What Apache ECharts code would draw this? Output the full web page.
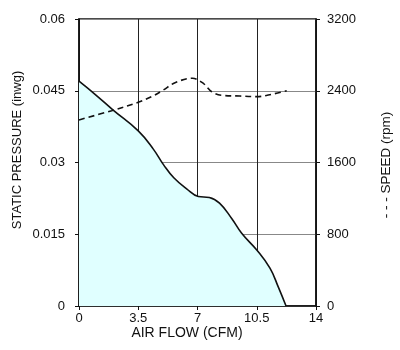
<!DOCTYPE html>
<html>
<head>
<meta charset="utf-8">
<script src="https://cdn.jsdelivr.net/npm/echarts@6/dist/echarts.min.js"></script>
<style>
  html, body { margin: 0; padding: 0; background: #fff; }
  #chart { width: 400px; height: 350px; }
</style>
</head>
<body>
<div id="chart"></div>
<script>
// Fan performance: static pressure and speed versus air flow
const airFlowTicks = [0, 3.5, 7, 10.5, 14];
const pressureTicks = [0, 0.015, 0.03, 0.045, 0.06];
const speedTicks = [0, 800, 1600, 2400, 3200];

const xTitle = 'AIR FLOW (CFM)';
const leftTitle = 'STATIC PRESSURE (inwg)';
const rightTitle = '- - - SPEED (rpm)';

const pressureFlow = [0, 1.0, 2.0, 3.5, 4.39, 5.0, 5.6, 6.36, 7.05, 7.7, 8.3, 9.02, 9.61, 10.5, 11.28, 11.77, 12.23];
const pressureValues = [0.0470, 0.0441, 0.0410, 0.0366, 0.0328, 0.0295, 0.0268, 0.0245, 0.0229, 0.0227, 0.0215, 0.0183, 0.0152, 0.0117, 0.0079, 0.0040, 0];

const speedFlow = [0, 1.93, 3.5, 4.29, 4.98, 5.67, 6.7, 7.34, 7.84, 8.4, 9.51, 10.5, 11.38, 12.27];
const speedValues = [2075, 2178, 2271, 2334, 2408, 2490, 2540, 2483, 2389, 2350, 2341, 2334, 2360, 2400];

const font = 'Liberation Sans, Arial, Helvetica, sans-serif';
const ink = '#111';
const pair = (xs, ys) => xs.map((x, i) => [x, ys[i]]);

const sideAxis = (ticks, pos, margin) => ({
  type: 'value',
  position: pos,
  min: ticks[0], max: ticks[ticks.length - 1],
  interval: ticks[1] - ticks[0],
  axisLine: { show: true, lineStyle: { color: ink, width: 1.5 } },
  axisTick: { show: true, length: 4, lineStyle: { color: ink } },
  axisLabel: { color: ink, fontSize: 13, fontFamily: font, margin: margin, formatter: v => String(v) },
  splitLine: { show: pos === 'left', lineStyle: { color: '#888', width: 1.2 } }
});

const chart = echarts.init(document.getElementById('chart'));
chart.setOption({
  animation: false,
  backgroundColor: '#fff',
  textStyle: { fontFamily: font },
  grid: {
    left: 79, top: 19, width: 237, height: 287,
    show: true, borderColor: ink, borderWidth: 1.5, backgroundColor: 'transparent'
  },
  xAxis: {
    type: 'value',
    min: airFlowTicks[0], max: airFlowTicks[airFlowTicks.length - 1],
    interval: airFlowTicks[1] - airFlowTicks[0],
    axisLine: { show: true, lineStyle: { color: ink, width: 1.5 } },
    axisTick: { show: true, length: 4, lineStyle: { color: ink } },
    axisLabel: { color: ink, fontSize: 13, fontFamily: font, margin: 6 },
    splitLine: { show: true, lineStyle: { color: '#222', width: 1 } }
  },
  yAxis: [sideAxis(pressureTicks, 'left', 14), sideAxis(speedTicks, 'right', 11)],
  graphic: [{
    type: 'text', x: 187, y: 333,
    style: { text: xTitle, font: '14px ' + font, fill: ink, textAlign: 'center', textVerticalAlign: 'middle' }
  }, {
    type: 'text', x: 17, y: 150, rotation: Math.PI / 2,
    style: { text: leftTitle, font: '13px ' + font, fill: ink, textAlign: 'center', textVerticalAlign: 'middle' }
  }, {
    type: 'text', x: 386, y: 165, rotation: Math.PI / 2,
    style: { text: rightTitle, font: '13.5px ' + font, fill: ink, textAlign: 'center', textVerticalAlign: 'middle' }
  }],
  series: [{
    name: 'Static pressure',
    type: 'line',
    yAxisIndex: 0,
    data: pair(pressureFlow, pressureValues),
    smooth: 0.45,
    symbol: 'none',
    lineStyle: { color: ink, width: 1.6 },
    areaStyle: { color: '#e0ffff', opacity: 1 },
    z: 1
  }, {
    name: 'Speed',
    type: 'line',
    yAxisIndex: 1,
    data: pair(speedFlow, speedValues),
    smooth: 0.35,
    symbol: 'none',
    lineStyle: { color: ink, width: 1.6, type: [6, 4] },
    z: 3
  }]
});
</script>
</body>
</html>
